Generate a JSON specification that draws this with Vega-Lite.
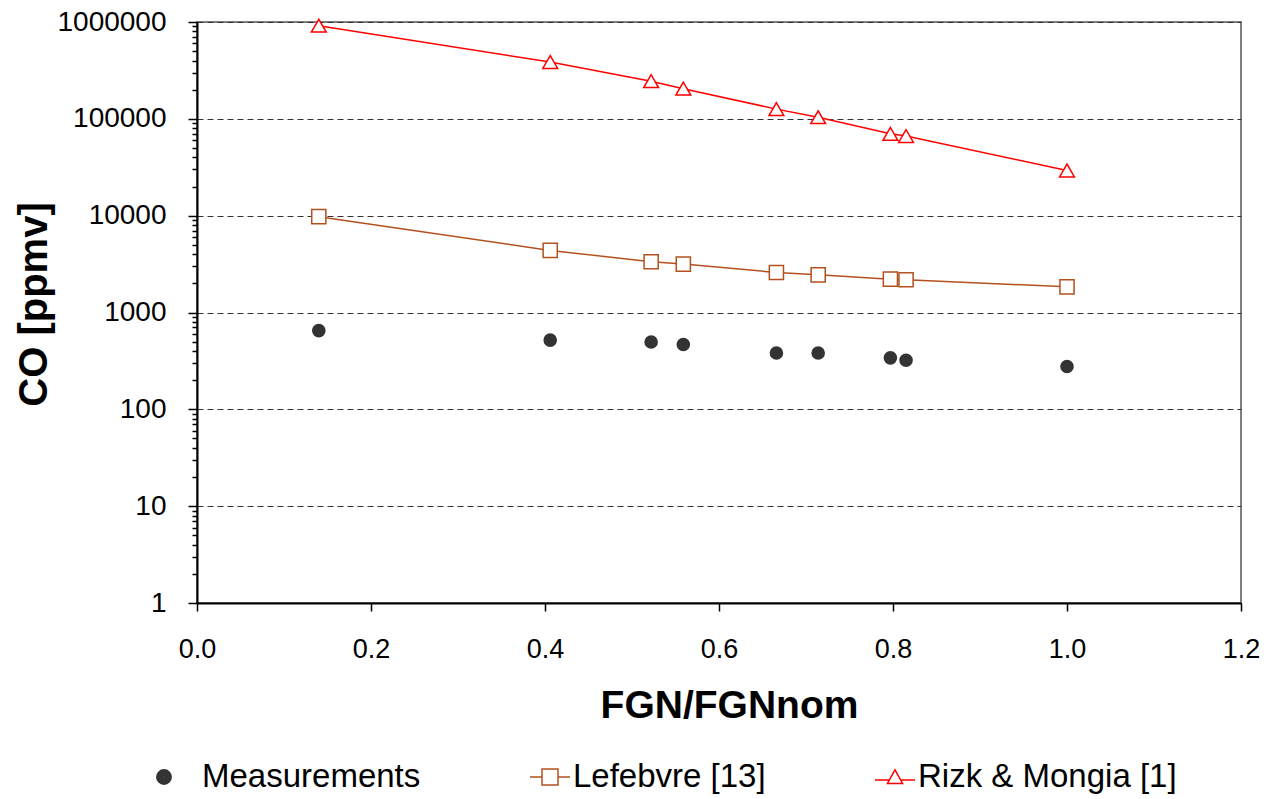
{
  "$schema": "https://vega.github.io/schema/vega-lite/v6.json",
  "width": 1044,
  "height": 581,
  "autosize": "none",
  "padding": {"left": 197, "top": 22, "right": 26, "bottom": 196},
  "background": "white",
  "config": {
    "font": "Liberation Sans",
    "view": {"stroke": "#555555", "strokeWidth": 1.5}
  },
  "data": {
    "values": [
      {"x": 0.140, "series": "Measurements", "co": 650},
      {"x": 0.406, "series": "Measurements", "co": 519},
      {"x": 0.522, "series": "Measurements", "co": 496},
      {"x": 0.559, "series": "Measurements", "co": 467},
      {"x": 0.666, "series": "Measurements", "co": 382},
      {"x": 0.714, "series": "Measurements", "co": 382},
      {"x": 0.797, "series": "Measurements", "co": 340},
      {"x": 0.815, "series": "Measurements", "co": 321},
      {"x": 1.000, "series": "Measurements", "co": 277},
      {"x": 0.140, "series": "Lefebvre [13]", "co": 9760},
      {"x": 0.406, "series": "Lefebvre [13]", "co": 4380},
      {"x": 0.522, "series": "Lefebvre [13]", "co": 3340},
      {"x": 0.559, "series": "Lefebvre [13]", "co": 3160},
      {"x": 0.666, "series": "Lefebvre [13]", "co": 2590},
      {"x": 0.714, "series": "Lefebvre [13]", "co": 2450},
      {"x": 0.797, "series": "Lefebvre [13]", "co": 2210},
      {"x": 0.815, "series": "Lefebvre [13]", "co": 2180},
      {"x": 1.000, "series": "Lefebvre [13]", "co": 1840},
      {"x": 0.140, "series": "Rizk & Mongia [1]", "co": 916000},
      {"x": 0.406, "series": "Rizk & Mongia [1]", "co": 386000},
      {"x": 0.522, "series": "Rizk & Mongia [1]", "co": 245000},
      {"x": 0.559, "series": "Rizk & Mongia [1]", "co": 205000},
      {"x": 0.666, "series": "Rizk & Mongia [1]", "co": 126000},
      {"x": 0.714, "series": "Rizk & Mongia [1]", "co": 104000},
      {"x": 0.797, "series": "Rizk & Mongia [1]", "co": 70000},
      {"x": 0.815, "series": "Rizk & Mongia [1]", "co": 66400},
      {"x": 1.000, "series": "Rizk & Mongia [1]", "co": 29300}
    ]
  },
  "encoding": {
    "x": {
      "field": "x",
      "type": "quantitative",
      "scale": {"domain": [0, 1.2], "nice": false, "zero": false},
      "axis": {
        "values": [0, 0.2, 0.4, 0.6, 0.8, 1.0, 1.2],
        "format": ".1f",
        "grid": false,
        "domainColor": "black",
        "domainWidth": 2,
        "tickColor": "black",
        "tickWidth": 1.5,
        "tickSize": 8,
        "labelFontSize": 27,
        "labelPadding": 25,
        "labelColor": "black",
        "labelFlush": false,
        "labelOverlap": false,
        "title": "FGN/FGNnom",
        "titleFontSize": 39,
        "titleFontWeight": "bold",
        "titleColor": "black",
        "titleX": 532,
        "titleY": 114,
        "titleBaseline": "alphabetic",
        "titleAlign": "center"
      }
    }
  },
  "layer": [
    {
      "mark": {"type": "point", "opacity": 0, "filled": false, "strokeWidth": 1.5},
      "encoding": {
        "y": {
          "field": "co",
          "type": "quantitative",
          "scale": {"type": "log", "domain": [1, 1000000], "nice": false},
          "axis": {
            "orient": "left",
            "values": [1, 10, 100, 1000, 10000, 100000, 1000000],
            "format": "d",
            "grid": true,
            "gridDash": [6, 4],
            "gridColor": "#333333",
            "gridWidth": 1.2,
            "domainColor": "black",
            "domainWidth": 2,
            "tickColor": "black",
            "tickWidth": 1.5,
            "tickSize": 9,
            "labelFontSize": 28,
            "labelPadding": 22,
            "labelColor": "black",
            "labelOverlap": false,
            "title": "CO [ppmv]",
            "titleFontSize": 40,
            "titleFontWeight": "bold",
            "titleColor": "black",
            "titleAngle": -90,
            "titleX": -151,
            "titleY": 282,
            "titleBaseline": "alphabetic",
            "titleAlign": "center"
          }
        },
        "shape": {
          "field": "series",
          "type": "nominal",
          "scale": {
            "domain": ["Measurements", "Lefebvre [13]", "Rizk & Mongia [1]"],
            "range": [
              "M-1.11,0 A0.36,0.36 0 1,0 -0.39,0 A0.36,0.36 0 1,0 -1.11,0 M-1.06,0 A0.31,0.31 0 1,0 -0.44,0 A0.31,0.31 0 1,0 -1.06,0 M-1.01,0 A0.26,0.26 0 1,0 -0.49,0 A0.26,0.26 0 1,0 -1.01,0 M-0.96,0 A0.21,0.21 0 1,0 -0.54,0 A0.21,0.21 0 1,0 -0.96,0 M-0.91,0 A0.16,0.16 0 1,0 -0.59,0 A0.16,0.16 0 1,0 -0.91,0 M-0.86,0 A0.11,0.11 0 1,0 -0.64,0 A0.11,0.11 0 1,0 -0.86,0 M-0.81,0 A0.06,0.06 0 1,0 -0.69,0 A0.06,0.06 0 1,0 -0.81,0 M-0.77,0 A0.02,0.02 0 1,0 -0.73,0 A0.02,0.02 0 1,0 -0.77,0",
              "M-1,0 L-0.4,0 M0.4,0 L1,0 M-0.4,-0.4 L0.4,-0.4 L0.4,0.4 L-0.4,0.4 Z",
              "M-1,0.15 L-0.28,0.15 M0.28,0.15 L1,0.15 M0,-0.36 L0.38,0.32 L-0.38,0.32 Z"
            ]
          },
          "legend": {
            "orient": "none",
            "legendX": -39,
            "legendY": 734,
            "direction": "horizontal",
            "title": null,
            "symbolSize": 1600,
            "symbolStrokeWidth": 1.5,
            "symbolFillColor": "white",
            "labelFontSize": 33,
            "labelColor": "black",
            "labelOffset": 2,
            "labelLimit": 400,
            "columnPadding": 106,
            "padding": 0
          }
        },
        "stroke": {
          "field": "series",
          "type": "nominal",
          "scale": {
            "domain": ["Measurements", "Lefebvre [13]", "Rizk & Mongia [1]"],
            "range": ["#333333", "#B4501E", "#FF0000"]
          },
          "legend": {
            "orient": "none",
            "legendX": -39,
            "legendY": 734,
            "direction": "horizontal",
            "title": null,
            "symbolSize": 1600,
            "symbolStrokeWidth": 1.5,
            "symbolFillColor": "white",
            "labelFontSize": 33,
            "labelColor": "black",
            "labelOffset": 2,
            "labelLimit": 400,
            "columnPadding": 106,
            "padding": 0
          }
        }
      }
    },
    {
      "mark": {"type": "tick", "opacity": 0},
      "encoding": {
        "y": {
          "field": "co",
          "type": "quantitative",
          "axis": {
            "orient": "left",
            "values": [2, 3, 4, 5, 6, 7, 8, 9, 20, 30, 40, 50, 60, 70, 80, 90, 200, 300, 400, 500, 600, 700, 800, 900, 2000, 3000, 4000, 5000, 6000, 7000, 8000, 9000, 20000, 30000, 40000, 50000, 60000, 70000, 80000, 90000, 200000, 300000, 400000, 500000, 600000, 700000, 800000, 900000],
            "labels": false,
            "grid": false,
            "domain": false,
            "tickColor": "black",
            "tickWidth": 1.5,
            "tickSize": 5,
            "title": null
          }
        }
      }
    },
    {
      "transform": [{"filter": "datum.series === 'Lefebvre [13]'"}],
      "mark": {"type": "line", "color": "#B4501E", "strokeWidth": 1.5},
      "encoding": {
        "y": {"field": "co", "type": "quantitative", "axis": null}
      }
    },
    {
      "transform": [{"filter": "datum.series === 'Rizk & Mongia [1]'"}],
      "mark": {"type": "line", "color": "#FF0000", "strokeWidth": 1.5},
      "encoding": {
        "y": {"field": "co", "type": "quantitative", "axis": null}
      }
    },
    {
      "transform": [{"filter": "datum.series === 'Measurements'"}],
      "mark": {"type": "circle", "size": 185, "color": "#333333", "opacity": 1},
      "encoding": {
        "y": {"field": "co", "type": "quantitative", "axis": null}
      }
    },
    {
      "transform": [{"filter": "datum.series === 'Lefebvre [13]'"}],
      "mark": {"type": "square", "size": 200, "filled": true, "fill": "white", "stroke": "#B4501E", "strokeWidth": 1.5, "opacity": 1},
      "encoding": {
        "y": {"field": "co", "type": "quantitative", "axis": null}
      }
    },
    {
      "transform": [{"filter": "datum.series === 'Rizk & Mongia [1]'"}],
      "mark": {"type": "point", "shape": "triangle-up", "size": 220, "filled": true, "fill": "white", "stroke": "#FF0000", "strokeWidth": 1.5, "opacity": 1},
      "encoding": {
        "y": {"field": "co", "type": "quantitative", "axis": null}
      }
    }
  ],
  "resolve": {"axis": {"y": "independent"}}
}
